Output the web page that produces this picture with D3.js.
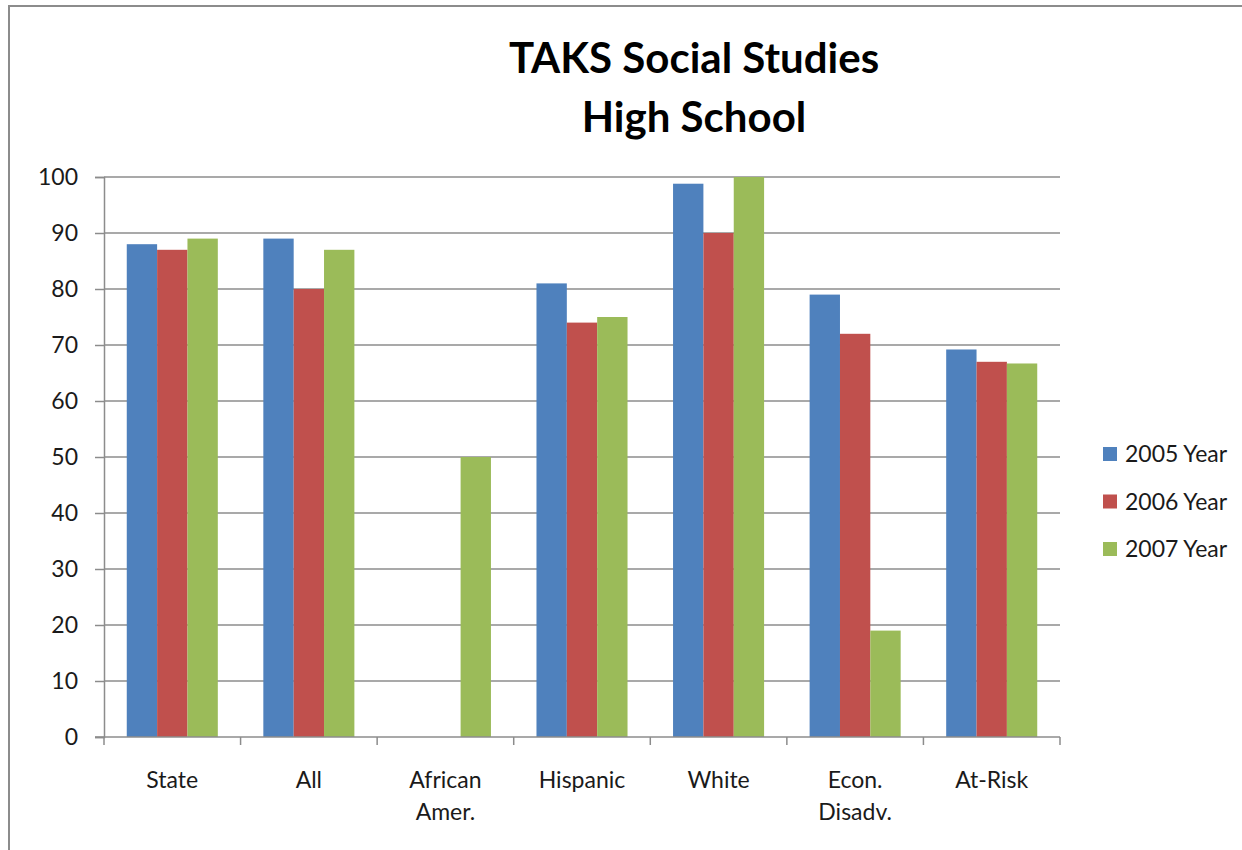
<!DOCTYPE html>
<html>
<head>
<meta charset="utf-8">
<script src="https://cdn.jsdelivr.net/npm/d3@7"></script>
<style>
  body { margin: 0; background: #fff; }
  text { font-family: Lato, 'Open Sans', sans-serif; }
</style>
</head>
<body>
<div class="chartContainer"></div>
<script>
// Chart data
const categories = ['State', 'All', 'African\nAmer.', 'Hispanic', 'White', 'Econ.\nDisadv.', 'At-Risk'];
const seriesNames = ['2005 Year', '2006 Year', '2007 Year'];
const values2005 = [88, 89, 0, 81, 98.8, 79, 69.2];
const values2006 = [87, 80, 0, 74, 90, 72, 67];
const values2007 = [89, 87, 50, 75, 100, 19, 66.7];
const yTicks = [0, 10, 20, 30, 40, 50, 60, 70, 80, 90, 100];
const titleLines = ['TAKS Social Studies', 'High School'];
const colors = ['#4F81BD', '#C0504D', '#9BBB59'];

// Build rows for the grouped bars
const allValues = [values2005, values2006, values2007];
let rows = categories.map((c, i) => ({
  category: c,
  values: seriesNames.map((s, j) => ({ series: s, value: allValues[j][i] }))
}));

const width = 1242;
const height = 850;

// Plot area
let plot = { left: 104, right: 1060, top: 177, bottom: 737 };

const x0 = d3.scaleBand()
  .domain(categories)
  .range([plot.left, plot.right])
  .padding(0);

// Excel style gap width of 150% -> outer padding 0.75 bar on each side
const x1 = d3.scaleBand()
  .domain(seriesNames)
  .range([0, x0.bandwidth()])
  .paddingInner(0)
  .paddingOuter(0.75);

const yScale = d3.scaleLinear()
  .domain([0, 100])
  .range([plot.bottom, plot.top]);

const color = d3.scaleOrdinal().domain(seriesNames).range(colors);

let svg = d3.select('div.chartContainer').append('svg')
  .attr('width', width)
  .attr('height', height);

// Chart frame (only top and left edges show inside the picture)
svg.append('rect')
  .attr('x', 9)
  .attr('y', 6)
  .attr('width', width + 50)
  .attr('height', height + 50)
  .attr('fill', 'none')
  .attr('stroke', '#8c8c8c')
  .attr('stroke-width', 2);

// Title
svg.append('text')
  .attr('text-anchor', 'middle')
  .attr('font-size', 42)
  .attr('font-weight', 'bold')
  .attr('fill', '#000')
  .selectAll('tspan')
  .data(titleLines)
  .enter().append('tspan')
  .attr('x', 694)
  .attr('y', (d, i) => 73 + i * 59)
  .text(d => d);

// Y axis with gridlines
let yAxis = svg.append('g')
  .attr('transform', 'translate(' + plot.left + ',0)')
  .call(d3.axisLeft(yScale)
    .tickValues(yTicks)
    .tickSize(9)
    .tickPadding(17));
yAxis.selectAll('line').attr('stroke', '#8c8c8c').attr('stroke-width', 1.5);
yAxis.select('.domain').attr('stroke', '#8c8c8c').attr('stroke-width', 1.5);
yAxis.selectAll('text')
  .attr('font-size', 23)
  .attr('font-family', 'Lato, sans-serif')
  .attr('fill', '#1a1a1a');

svg.append('g')
  .selectAll('line')
  .data(yTicks.filter(t => t > 0))
  .enter().append('line')
  .attr('x1', plot.left)
  .attr('x2', plot.right)
  .attr('y1', d => yScale(d))
  .attr('y2', d => yScale(d))
  .attr('stroke', '#8c8c8c')
  .attr('stroke-width', 1.5);

// Bars
let groups = svg.append('g')
  .selectAll('g')
  .data(rows)
  .enter().append('g')
  .attr('transform', d => 'translate(' + x0(d.category) + ',0)');

groups.selectAll('rect')
  .data(d => d.values)
  .enter().append('rect')
  .attr('x', d => x1(d.series))
  .attr('y', d => yScale(d.value))
  .attr('width', x1.bandwidth())
  .attr('height', d => yScale(0) - yScale(d.value))
  .attr('fill', d => color(d.series));

// X axis line and boundary ticks
svg.append('line')
  .attr('x1', plot.left - 9)
  .attr('x2', plot.right)
  .attr('y1', yScale(0))
  .attr('y2', yScale(0))
  .attr('stroke', '#8c8c8c')
  .attr('stroke-width', 1.5);

let boundaries = categories.map(c => x0(c)).concat([x0(categories[categories.length - 1]) + x0.bandwidth()]);
svg.append('g')
  .selectAll('line')
  .data(boundaries)
  .enter().append('line')
  .attr('x1', d => d)
  .attr('x2', d => d)
  .attr('y1', yScale(0))
  .attr('y2', yScale(0) + 8)
  .attr('stroke', '#8c8c8c')
  .attr('stroke-width', 1.5);

// Category labels, split on newlines
svg.append('g')
  .selectAll('text')
  .data(categories)
  .enter().append('text')
  .attr('text-anchor', 'middle')
  .attr('font-size', 23)
  .attr('fill', '#1a1a1a')
  .each(function (d) {
    d3.select(this).selectAll('tspan')
      .data(d.split('\n'))
      .enter().append('tspan')
      .attr('x', x0(d) + x0.bandwidth() / 2)
      .attr('y', (t, i) => 788 + i * 32)
      .text(t => t);
  });

// Legend
let legend = svg.append('g')
  .selectAll('g')
  .data(seriesNames)
  .enter().append('g')
  .attr('transform', (d, i) => 'translate(1103,' + (454 + i * 47.5) + ')');

legend.append('rect')
  .attr('x', 0)
  .attr('y', -7)
  .attr('width', 14)
  .attr('height', 14)
  .attr('fill', d => color(d));

legend.append('text')
  .attr('x', 22)
  .attr('y', 8)
  .attr('font-size', 23)
  .attr('fill', '#1a1a1a')
  .text(d => d);
</script>
</body>
</html>
